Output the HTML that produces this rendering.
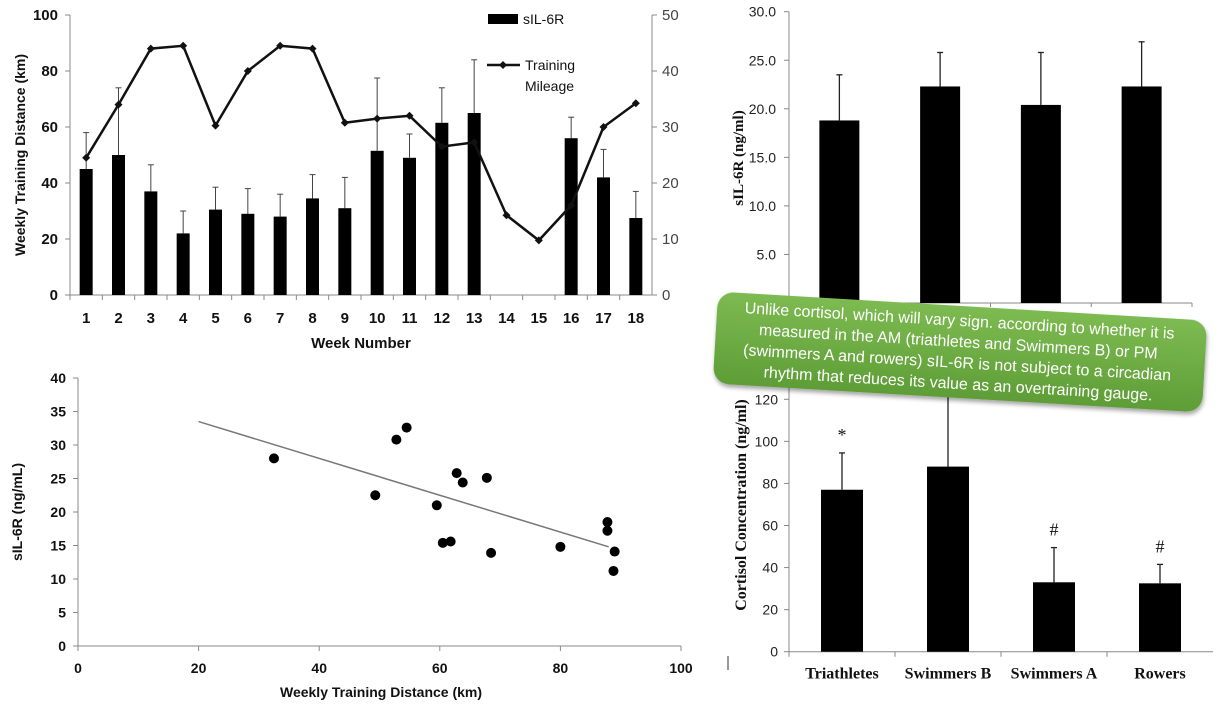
<!DOCTYPE html>
<html><head><meta charset="utf-8"><style>
html,body{margin:0;padding:0;background:#fff;}
svg{display:block;font-family:"Liberation Sans",sans-serif;}
.sf{font-family:"Liberation Serif",serif;font-weight:bold;}
</style></head><body>
<svg id="s" width="1226" height="710" viewBox="0 0 1226 710" xmlns="http://www.w3.org/2000/svg">
<g id="tl"></g>
<g id="tr"></g>
<g id="bl"></g>
<g id="br"></g>
<g id="co"></g>
</svg>
<script>
// ---- Top-left: weekly chart ----
const weeks = ["1","2","3","4","5","6","7","8","9","10","11","12","13","14","15","16","17","18"];
const silBars = [45,50,37,22,30.5,29,28,34.5,31,51.5,49,61.5,65,0,0,56,42,27.5];
const silErrTop = [58,74,46.5,30,38.5,38,36,43,42,77.5,57.5,74,84,0,0,63.5,52,37];
const mileage = [49,68,88,89,60.5,80,89,88,61.5,63,64,53,54.5,28.5,19.5,32,60,68.5];
const leftTicks = [0,20,40,60,80,100];
const rightTicks = [0,10,20,30,40,50];
// ---- Top-right ----
const groups = ["Triathletes","Swimmers B","Swimmers A","Rowers"];
const silGroup = [18.8,22.3,20.4,22.3];
const silGroupErr = [23.5,25.8,25.8,26.9];
const trTicks = [5,10,15,20,25,30];
// ---- Bottom-left scatter ----
const scX = [32.5,49.3,52.8,54.5,59.5,60.5,61.8,62.8,63.8,67.8,68.5,80,87.8,87.8,89,88.8];
const scY = [28,22.5,30.8,32.6,21,15.4,15.6,25.8,24.4,25.1,13.9,14.8,18.5,17.2,14.1,11.2];
const trendX = [20,88];
const trendY = [33.5,14.8];
const scXTicks = [0,20,40,60,80,100];
const scYTicks = [0,5,10,15,20,25,30,35,40];
// ---- Bottom-right cortisol ----
const cortisol = [77,88,33,32.5];
const cortisolErr = [94.5,135,49.5,41.5];
const cortMarks = ["*","","#","#"];
const brTicks = [0,20,40,60,80,100,120];

const NS="http://www.w3.org/2000/svg";
function mk(p,tag,at,txt){const e=document.createElementNS(NS,tag);for(const k in at)e.setAttribute(k,at[k]);if(txt!==undefined)e.textContent=txt;p.appendChild(e);return e;}

// Top-left
(function(){
const g=document.getElementById('tl');
const x0=70,x1=652,yb=295,yt=15;
const cw=(x1-x0)/weeks.length;
const xC=i=>x0+cw*(i+0.5);
const yL=v=>yb-(v/100)*(yb-yt);
const yR=v=>yb-(v/50)*(yb-yt);
let e;
e=mk(g,'line',{x1:x0,y1:yt,x2:x0,y2:yb,stroke:'#888'});

e=mk(g,'line',{x1:x1,y1:yt,x2:x1,y2:yb,stroke:'#888'});

e=mk(g,'line',{x1:x0,y1:yb,x2:x1,y2:yb,stroke:'#888'});

leftTicks.forEach(v=>{mk(g,'line',{x1:x0-5,y1:yL(v),x2:x0,y2:yL(v),stroke:'#888'});
 e=mk(g,'text',{x:x0-12,y:yL(v)+5,'text-anchor':'end','font-size':15,'font-weight':'bold',fill:'#111'},v);
 });
rightTicks.forEach(v=>{mk(g,'line',{x1:x1,y1:yR(v),x2:x1+5,y2:yR(v),stroke:'#888'});
 e=mk(g,'text',{x:x1+10,y:yR(v)+5,'font-size':15,fill:'#444'},v);
 });
weeks.forEach((w,i)=>{mk(g,'line',{x1:x0+cw*i,y1:yb,x2:x0+cw*i,y2:yb+5,stroke:'#888'});
 e=mk(g,'text',{x:xC(i),y:yb+28,'text-anchor':'middle','font-size':15,'font-weight':'bold',fill:'#111'},w);
 
 if(silBars[i]>0){
  e=mk(g,'line',{x1:xC(i),y1:yL(silErrTop[i]),x2:xC(i),y2:yL(silBars[i]),stroke:'#444'});
  
  mk(g,'line',{x1:xC(i)-3,y1:yL(silErrTop[i]),x2:xC(i)+3,y2:yL(silErrTop[i]),stroke:'#444'});
  e=mk(g,'rect',{x:xC(i)-6.5,y:yL(silBars[i]),width:13,height:yb-yL(silBars[i]),fill:'#000'});
  }
});
e=mk(g,'polyline',{points:mileage.map((v,i)=>xC(i)+','+yL(v)).join(' '),fill:'none',stroke:'#111','stroke-width':2.5});

mileage.forEach((v,i)=>{e=mk(g,'path',{d:`M${xC(i)} ${yL(v)-4}l4 4l-4 4l-4 -4z`,fill:'#111'});
 });
e=mk(g,'text',{transform:'translate(25,155) rotate(-90)','text-anchor':'middle','font-size':14,'font-weight':'bold',fill:'#111'},'Weekly Training Distance (km)');

e=mk(g,'text',{x:361,y:348,'text-anchor':'middle','font-size':15,'font-weight':'bold',fill:'#111'},'Week Number');

e=mk(g,'rect',{x:488,y:14,width:30,height:10,fill:'#000'});

e=mk(g,'text',{x:523,y:24,'font-size':14,fill:'#111'},'sIL-6R');

mk(g,'line',{x1:487,y1:65,x2:520,y2:65,stroke:'#111','stroke-width':2.5});
mk(g,'path',{d:'M503 61l4 4l-4 4l-4 -4z',fill:'#111'});
e=mk(g,'text',{x:525,y:70,'font-size':14,fill:'#111'},'Training');

mk(g,'text',{x:525,y:91,'font-size':14,fill:'#111'},'Mileage');
})();

// Top-right
(function(){
const g=document.getElementById('tr');
const x0=789,x1=1192,yb=303,yt=11.7;
const cw=(x1-x0)/groups.length,xC=i=>x0+cw*(i+0.5),y=v=>yb-v/30*(yb-yt);
let e;
mk(g,'line',{x1:x0,y1:yt,x2:x0,y2:yb,stroke:'#888'});
mk(g,'line',{x1:x0,y1:yb,x2:x1,y2:yb,stroke:'#888'});
trTicks.forEach(v=>{mk(g,'line',{x1:x0-5,y1:y(v),x2:x0,y2:y(v),stroke:'#888'});
 e=mk(g,'text',{x:x0-13,y:y(v)+5,'text-anchor':'end','font-size':14,fill:'#222'},v.toFixed(1));
 });
groups.forEach((n,i)=>{mk(g,'line',{x1:x0+cw*(i+1),y1:yb,x2:x0+cw*(i+1),y2:yb+4,stroke:'#888'});
 mk(g,'line',{x1:xC(i),y1:y(silGroupErr[i]),x2:xC(i),y2:y(silGroup[i]),stroke:'#222','stroke-width':1.3});
 mk(g,'line',{x1:xC(i)-3,y1:y(silGroupErr[i]),x2:xC(i)+3,y2:y(silGroupErr[i]),stroke:'#222','stroke-width':1.3});
 e=mk(g,'rect',{x:xC(i)-20,y:y(silGroup[i]),width:40,height:yb-y(silGroup[i]),fill:'#000'});
 });
e=mk(g,'text',{class:'sf',transform:'translate(743,158) rotate(-90)','text-anchor':'middle','font-size':15,fill:'#111'},'sIL-6R (ng/ml)');

})();

// Bottom-left scatter
(function(){
const g=document.getElementById('bl');
const x0=78,x1=681,yb=646,yt=378;
const X=v=>x0+v/100*(x1-x0),Y=v=>yb-v/40*(yb-yt);
let e;
mk(g,'line',{x1:x0,y1:yt,x2:x0,y2:yb,stroke:'#888'});
mk(g,'line',{x1:x0,y1:yb,x2:x1,y2:yb,stroke:'#888'});
scYTicks.forEach(v=>{mk(g,'line',{x1:x0-5,y1:Y(v),x2:x0,y2:Y(v),stroke:'#888'});
 e=mk(g,'text',{x:x0-12,y:Y(v)+5,'text-anchor':'end','font-size':14,'font-weight':'bold',fill:'#111'},v);
 });
scXTicks.forEach(v=>{mk(g,'line',{x1:X(v),y1:yb,x2:X(v),y2:yb+5,stroke:'#888'});
 e=mk(g,'text',{x:X(v),y:yb+27,'text-anchor':'middle','font-size':14,'font-weight':'bold',fill:'#111'},v);
 });
e=mk(g,'line',{x1:X(trendX[0]),y1:Y(trendY[0]),x2:X(trendX[1]),y2:Y(trendY[1]),stroke:'#777','stroke-width':1.5});

scX.forEach((v,i)=>{e=mk(g,'circle',{cx:X(v),cy:Y(scY[i]),r:5,fill:'#000'});
 });
e=mk(g,'text',{transform:'translate(22,512) rotate(-90)','text-anchor':'middle','font-size':14,'font-weight':'bold',fill:'#111'},'sIL-6R (ng/mL)');

e=mk(g,'text',{x:381,y:697,'text-anchor':'middle','font-size':14,'font-weight':'bold',fill:'#111'},'Weekly Training Distance (km)');

})();

// Bottom-right cortisol
(function(){
const g=document.getElementById('br');
const x0=789,x1=1213,yb=651.7,y120=399.3;
const cw=(x1-x0)/groups.length,xC=i=>x0+cw*(i+0.5),y=v=>yb-v/120*(yb-y120);
let e;
mk(g,'line',{x1:x0,y1:330,x2:x0,y2:yb,stroke:'#888'});
mk(g,'line',{x1:x0,y1:yb,x2:x1,y2:yb,stroke:'#888'});
brTicks.forEach(v=>{mk(g,'line',{x1:x0-5,y1:y(v),x2:x0,y2:y(v),stroke:'#888'});
 e=mk(g,'text',{x:x0-11,y:y(v)+5,'text-anchor':'end','font-size':14,fill:'#222'},v);
 });
groups.forEach((n,i)=>{mk(g,'line',{x1:x0+cw*i,y1:yb,x2:x0+cw*i,y2:yb+5,stroke:'#888'});
 mk(g,'line',{x1:xC(i),y1:y(cortisolErr[i]),x2:xC(i),y2:y(cortisol[i]),stroke:'#222','stroke-width':1.3});
 mk(g,'line',{x1:xC(i)-3,y1:y(cortisolErr[i]),x2:xC(i)+3,y2:y(cortisolErr[i]),stroke:'#222','stroke-width':1.3});
 e=mk(g,'rect',{x:xC(i)-21,y:y(cortisol[i]),width:42,height:yb-y(cortisol[i]),fill:'#000'});
 
 if(cortMarks[i]){e=mk(g,'text',{x:xC(i),y:y(cortisolErr[i])-12,'text-anchor':'middle','font-size':18,'font-family':'Liberation Serif, serif',fill:'#111'},cortMarks[i]);
  }
 e=mk(g,'text',{class:'sf',x:xC(i),y:yb+27,'text-anchor':'middle','font-size':16,fill:'#111'},n);
 });
mk(g,'line',{x1:728,y1:656,x2:728,y2:670,stroke:'#333'});
e=mk(g,'text',{class:'sf',transform:'translate(746,505) rotate(-90)','text-anchor':'middle','font-size':16,fill:'#111'},'Cortisol Concentration (ng/ml)');

})();
</script>
<svg style="position:absolute;left:0;top:0" width="1226" height="710" viewBox="0 0 1226 710">
<defs><linearGradient id="gg" x1="0" y1="0" x2="0" y2="1"><stop offset="0" stop-color="#7dbb52"/><stop offset="1" stop-color="#5e9d36"/></linearGradient>
<filter id="sh"><feDropShadow dx="1" dy="3" stdDeviation="2" flood-opacity="0.35"/></filter></defs>
<g transform="rotate(3.4 960 352)">
<rect x="715" y="306" width="490" height="92" rx="16" fill="url(#gg)" filter="url(#sh)"/>
<text x="960" y="326" text-anchor="middle" font-size="16" fill="#fff" font-family="Liberation Sans, sans-serif">
<tspan x="960" dy="0">Unlike cortisol, which will vary sign. according to whether it is</tspan>
<tspan x="960" dy="21">measured in the AM (triathletes and Swimmers B) or PM</tspan>
<tspan x="960" dy="21">(swimmers A and rowers) sIL-6R is not subject to a circadian</tspan>
<tspan x="960" dy="21">rhythm that reduces its value as an overtraining gauge.</tspan>
</text></g>
</svg>
<style>body{position:relative;width:1226px;height:710px;overflow:hidden;}</style>
</body></html>
